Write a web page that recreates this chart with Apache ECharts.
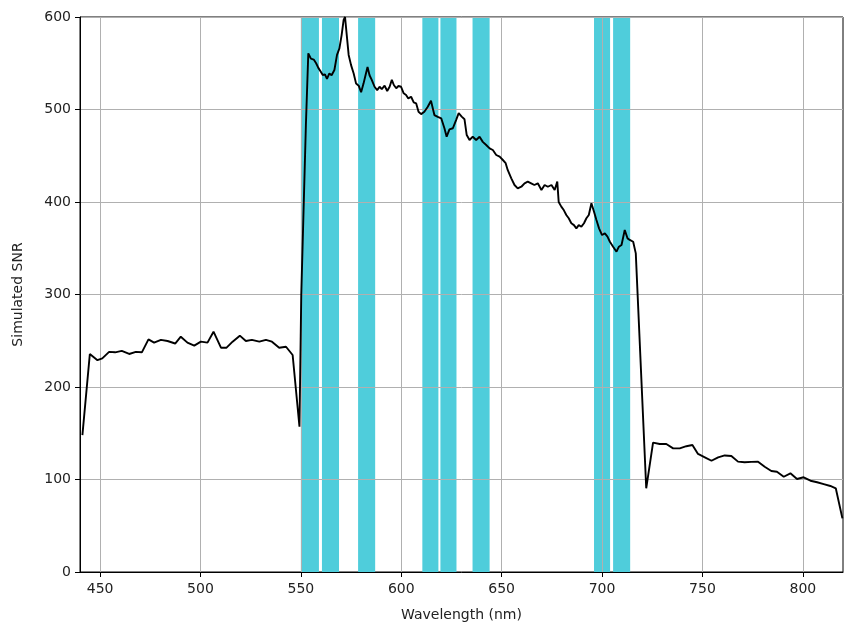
<!DOCTYPE html>
<html>
<head>
<meta charset="utf-8">
<script src="https://cdn.jsdelivr.net/npm/echarts@6/dist/echarts.min.js"></script>
<style>
  html, body { margin: 0; padding: 0; background: #fff; }
  #chart { width: 846px; height: 634px; }
</style>
</head>
<body>
<div id="chart"></div>
<script>
// wavelength (nm) and simulated SNR
const wavelength = [
  441.2, 444.9, 448.7, 451.1, 454.5, 457.5, 460.8, 464.5, 467.8, 470.8,
  474.1, 476.9, 480.3, 483.6, 487.4, 490.2, 493.5, 496.9, 500.2, 503.5,
  506.5, 510.2, 513, 516, 519.6, 522.6, 525.6, 529.3, 532.6, 535.6,
  539.2, 542.6, 545.9, 549.3, 550.2, 552.5, 553.7,
  555, 556.4, 557.6, 558.7, 559.7, 560.9, 562, 563, 564.2, 565.3,
  566.7, 568, 569.2, 570.3, 571.3, 572, 572.7, 573.8, 575, 576.3,
  577.5, 578.8, 580, 581.2, 582.2, 583.2, 584.2, 585.3, 586.7, 588,
  589.2, 590.3, 591.7, 593, 594.2, 595.3, 596.3, 597.5, 598.6, 599.9,
  601.2, 602.4, 603.5, 604.9, 606.2, 607.4, 608.6, 609.9, 611.5, 613.2,
  614.8, 616.5, 618.2, 619.9, 621.5, 622.6, 624, 625.7, 627.3, 628.6,
  630.1, 631.5, 632.6, 634, 635.6, 637.3, 639, 640.6, 642.3, 644,
  645.6, 647.3, 649, 650.6, 652, 653, 654.8, 656.4, 658, 659.8,
  661.4, 663, 664.7, 666.3, 668, 669.8, 671.4, 673, 674.8, 676.4,
  677.7, 678.4, 679.7, 681, 682.2, 683.4, 684.7, 686, 687.2, 688.4,
  689.7, 691, 692.2, 693.4, 694.7, 696, 697.2, 698.5, 700, 701.4,
  702.7, 703.9, 705.5, 707.2, 708.4, 709.7, 711.3, 712.7, 713.8, 715.5,
  716.8, 722, 725.4, 728.7, 732, 735.4, 738.7, 742, 745, 747.8,
  751.2, 754.5, 757.8, 761.1, 764.4, 767.7, 771, 774.4, 777.7, 781,
  784.3, 787.1, 790.5, 793.8, 797.1, 800.4, 803.8, 807.1, 810.4, 813.7,
  816.4, 819.7
];
const snr = [
  148, 235.7, 229, 231, 238, 237.5, 239, 235.7, 238, 237.5,
  251.5, 248, 251, 249.7, 247, 254.4, 248, 244.7, 249, 248,
  259.8, 242.5, 242.5, 249, 255.5, 249.7, 251, 249, 251, 249,
  242.5, 243.5, 234.6, 157, 300, 483, 560.7,
  555, 554, 550, 545, 541.6, 537.3, 538, 533, 539, 537,
  542.7, 559, 566, 580.5, 596.8, 600, 584, 559, 548, 539,
  528, 525.8, 518.6, 528, 537, 546, 537, 532, 524.6, 521,
  524.6, 522, 525.8, 520, 524.6, 532, 526.5, 523, 525.4, 524.6,
  517.5, 515.7, 512, 513.8, 507.8, 506.7, 497.6, 495, 497.6, 503,
  509.5, 494, 492, 490.5, 479.7, 470.6, 478.6, 479.7, 488.6, 496,
  492.3, 489.4, 472.4, 467, 470.6, 467, 470.6, 465, 461.6, 458,
  456.2, 450.8, 449, 445.4, 442, 434.6, 425.6, 418.4, 414.8, 416.5,
  420.2, 422, 420.2, 418.4, 420.2, 413, 418.4, 416.5, 418.4, 413,
  422, 400, 395, 391, 386, 382.4, 377, 375, 371.5, 375,
  373.3, 377, 382.4, 386, 398.6, 389.5, 380.5, 371.5, 364.3, 366,
  362.5, 357, 351.7, 346.3, 351.7, 353.5, 369.7, 360.7, 359, 357,
  344.5, 90.5, 139.8, 138.4, 138.4, 133.7, 133.7, 136, 137.3, 127.6,
  124, 120.3, 124, 126, 125.4, 119.3, 118.6, 119, 119.3, 113.8,
  109.2, 108.4, 103, 106.7, 100.5, 102.4, 98.7, 97, 95, 93,
  90.5, 58
];
// highlighted bands [start, end] in nm
const bandStart = [550, 560.5, 578.5, 610.5, 619.5, 635.5, 696, 705.5];
const bandEnd   = [559, 569, 587, 618.5, 627.5, 644, 704, 714];
const xTicks = [450, 500, 550, 600, 650, 700, 750, 800];

const chart = echarts.init(document.getElementById('chart'));
const font = 'DejaVu Sans';
const option = {
  animation: false,
  grid: {
    left: 80, right: 3, top: 17, bottom: 62,
    show: true, borderColor: '#000', borderWidth: 1, backgroundColor: '#fff'
  },
  xAxis: {
    type: 'value',
    min: 440,
    max: 820,
    z: 2,
    name: 'Wavelength (nm)',
    nameLocation: 'middle',
    nameGap: 36,
    nameTextStyle: { fontFamily: font, fontSize: 14, color: '#222' },
    axisLine: { show: true, onZero: false, lineStyle: { color: '#000', width: 1 } },
    axisTick: { show: true, length: 5, customValues: xTicks, lineStyle: { color: '#000' } },
    axisLabel: { customValues: xTicks, margin: 10, fontFamily: font, fontSize: 14, color: '#222' },
    splitLine: { show: true, lineStyle: { color: '#b0b0b0', width: 1 } }
  },
  yAxis: {
    type: 'value',
    min: 0,
    max: 600,
    interval: 100,
    z: 2,
    name: 'Simulated SNR',
    nameLocation: 'middle',
    nameGap: 55,
    nameTextStyle: { fontFamily: font, fontSize: 14, color: '#222' },
    axisLine: { show: true, lineStyle: { color: '#000', width: 1 } },
    axisTick: { show: true, length: 5, lineStyle: { color: '#000' } },
    axisLabel: { margin: 9, fontFamily: font, fontSize: 14, color: '#222' },
    splitLine: { show: true, lineStyle: { color: '#b0b0b0', width: 1 } }
  },
  series: [
    {
      name: 'bands',
      type: 'line',
      z: 1,
      data: [],
      silent: true,
      markArea: {
        silent: true,
        itemStyle: { color: '#4fcddb', opacity: 1 },
        data: bandStart.map((s, i) => [{ xAxis: s }, { xAxis: bandEnd[i] }])
      }
    },
    {
      name: 'SNR',
      type: 'line',
      z: 3,
      showSymbol: false,
      data: wavelength.map((w, i) => [w, snr[i]]),
      lineStyle: { color: '#000', width: 1.9 },
      itemStyle: { color: '#000' }
    }
  ]
};
chart.setOption(option);
</script>
</body>
</html>
